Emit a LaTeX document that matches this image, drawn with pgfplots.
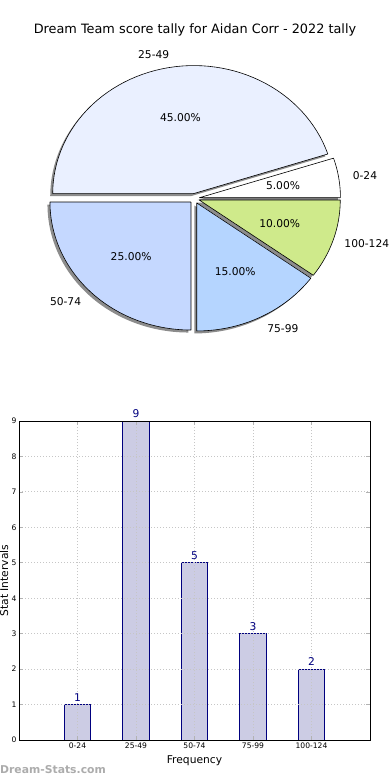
\documentclass[border=0pt]{standalone}
\usepackage{pgfplots}
\pgfplotsset{compat=1.18}
\usepackage{fontspec}
\setmainfont{DejaVu Sans}
\definecolor{c0}{HTML}{FFFFFF}
\definecolor{c1}{HTML}{EAF0FF}
\definecolor{c2}{HTML}{C5D8FF}
\definecolor{c3}{HTML}{B5D5FF}
\definecolor{c4}{HTML}{CFEA8B}
\definecolor{barfill}{HTML}{CCCCE4}
\definecolor{baredge}{HTML}{00007F}
\newcommand\basefont{\fontsize{10.7bp}{12.8bp}\selectfont}
\newcommand\tickfont{\fontsize{7.6bp}{9bp}\selectfont}
\pgfplotsset{/pgf/number format/assume math mode=true}
% pie geometry (pixel units)
\def\cx{194.5}\def\cy{-198.5}\def\rx{141}\def\ry{128}\def\ex{5}
% #1 start count, #2 end count (of total 20)
\newcommand\pieshadow[2]{%
 \addplot[fill=black!45, draw=none, domain={#1*18}:{#2*18}, samples=60, variable=\t]
 ({\cx-2.5+\ex*cos((#1+#2)*9)+\rx*cos(\t)}, {\cy-2.5+\ex*sin((#1+#2)*9)+\ry*sin(\t)})
 -- (axis cs:{\cx-2.5+\ex*cos((#1+#2)*9)},{\cy-2.5+\ex*sin((#1+#2)*9)}) -- cycle;
}
% #1 start, #2 end, #3 colour, #4 pct text, #5 label, #6 label node options
\newcommand\pieslice[6]{%
 \addplot[fill=#3, draw=black, line width=0.6pt, line join=round, domain={#1*18}:{#2*18}, samples=60, variable=\t]
 ({\cx+\ex*cos((#1+#2)*9)+\rx*cos(\t)}, {\cy+\ex*sin((#1+#2)*9)+\ry*sin(\t)})
 -- (axis cs:{\cx+\ex*cos((#1+#2)*9)},{\cy+\ex*sin((#1+#2)*9)}) -- cycle;
 \node[font=\basefont] at (axis cs:{\cx+\ex*cos((#1+#2)*9)+0.6*\rx*cos((#1+#2)*9)},{\cy+\ex*sin((#1+#2)*9)+0.6*\ry*sin((#1+#2)*9)}) {#4};
 \node[font=\basefont, inner sep=0pt, #6] at (axis cs:{\cx+\ex*cos((#1+#2)*9)+1.1*\rx*cos((#1+#2)*9)},{\cy+\ex*sin((#1+#2)*9)+1.1*\ry*sin((#1+#2)*9)}) {#5};
}
\begin{document}
\begin{tikzpicture}
\useasboundingbox (0,-780bp) rectangle (390bp,0);
\begin{axis}[at={(0,0)}, anchor=north west, width=390bp, height=390bp, scale only axis,
  xmin=0, xmax=390, ymin=-390, ymax=0, axis lines=none, clip=false]
 \node[font=\fontsize{12.85bp}{15bp}\selectfont] at (axis cs:195,-30) {Dream Team score tally for Aidan Corr - 2022 tally};
 \pieshadow{0}{1}
 \pieshadow{1}{10}
 \pieshadow{10}{15}
 \pieshadow{15}{18}
 \pieshadow{18}{20}
 \pieslice{0}{1}{c0}{5.00\%}{0-24}{anchor=west}
 \pieslice{1}{10}{c1}{45.00\%}{25-49}{anchor=east}
 \pieslice{10}{15}{c2}{25.00\%}{50-74}{anchor=east}
 \pieslice{15}{18}{c3}{15.00\%}{75-99}{anchor=west}
 \pieslice{18}{20}{c4}{10.00\%}{100-124}{anchor=west, xshift=-2.5bp}
\end{axis}
\begin{axis}[at={(19bp,-740bp)}, anchor=south west, width=351bp, height=319bp, scale only axis,
  xmin=-1, xmax=5, ymin=0, ymax=9,
  xtick={0,...,4}, xticklabels={0-24,25-49,50-74,75-99,100-124}, ytick={0,...,9},
  axis on top, grid=major, grid style={gray!45, dash pattern=on 1.2bp off 1.8bp, line width=0.9pt},
  tick align=inside, major tick length=4bp, tick style={gray!60, line width=0.8pt},
  axis line style={black, line width=0.8pt},
  tick label style={font=\tickfont},
  xticklabel style={yshift=1bp}, yticklabel style={xshift=1bp},
  label style={font=\basefont},
  xlabel=Frequency, ylabel=Stat Intervals,
  xlabel style={at={(axis description cs:0.5,0)}, anchor=center, yshift=-21bp},
  ylabel style={at={(axis description cs:-0.0427,0.5)}, anchor=center},
  ]
 \addplot[ybar, bar width=0.45, fill=barfill, draw=baredge, line width=0.8pt,
   nodes near coords, nodes near coords style={text=baredge, font=\basefont, inner sep=3pt}]
   coordinates {(0,1) (1,9) (2,5) (3,3) (4,2)};
\end{axis}
\node[anchor=west, inner sep=0pt, text=gray!65, font=\fontsize{10.8bp}{12bp}\selectfont\bfseries] at (0,-770bp) {Dream-Stats.com};
\end{tikzpicture}
\end{document}
